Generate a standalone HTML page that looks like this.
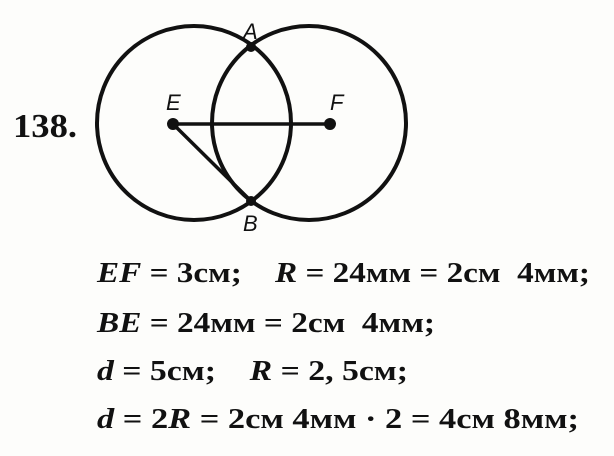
<!DOCTYPE html>
<html><head><meta charset="utf-8"><style>
html,body{margin:0;padding:0;background:#fff;}
svg{display:block}
text{fill:#111;white-space:pre;}
.s{font-family:"Liberation Serif",serif;}
.l{font-family:"Liberation Sans",sans-serif;font-style:italic;font-size:22px;}
</style></head><body>
<svg width="614" height="456" viewBox="0 0 614 456" xmlns="http://www.w3.org/2000/svg" xml:space="preserve">
<rect width="614" height="456" fill="#fdfdfb"/>
<g fill="none" stroke="#111" stroke-width="4">
<circle cx="194" cy="123" r="97"/>
<circle cx="309" cy="123" r="97"/>
<line x1="173" y1="124" x2="330" y2="124" stroke-width="3.5"/>
<line x1="173" y1="124" x2="251" y2="201" stroke-width="3.5"/>
</g>
<circle cx="173" cy="124" r="6" fill="#111"/>
<circle cx="330" cy="124" r="6" fill="#111"/>
<circle cx="251" cy="47" r="5" fill="#111"/>
<circle cx="251" cy="201" r="5" fill="#111"/>
<text class="l" x="243" y="39">A</text>
<text class="l" x="166" y="110">E</text>
<text class="l" x="330" y="110">F</text>
<text class="l" x="243" y="231">B</text>
<text class="s" x="13" y="137" textLength="64" lengthAdjust="spacingAndGlyphs" style="font-size:34px;font-weight:bold">138.</text>
<g class="s" style="font-size:28px;font-weight:bold">
<text class="s" x="97" y="282" textLength="493" lengthAdjust="spacingAndGlyphs"><tspan font-style="italic">EF</tspan> = 3см;    <tspan font-style="italic">R</tspan> = 24мм = 2см  4мм;</text>
<text class="s" x="97" y="332" textLength="338" lengthAdjust="spacingAndGlyphs"><tspan font-style="italic">BE</tspan> = 24мм = 2см  4мм;</text>
<text class="s" x="97" y="380" textLength="311" lengthAdjust="spacingAndGlyphs"><tspan font-style="italic">d</tspan> = 5см;    <tspan font-style="italic">R</tspan> = 2, 5см;</text>
<text class="s" x="97" y="428" textLength="482" lengthAdjust="spacingAndGlyphs"><tspan font-style="italic">d</tspan> = 2<tspan font-style="italic">R</tspan> = 2см 4мм · 2 = 4см 8мм;</text>
</g>
</svg>
</body></html>
